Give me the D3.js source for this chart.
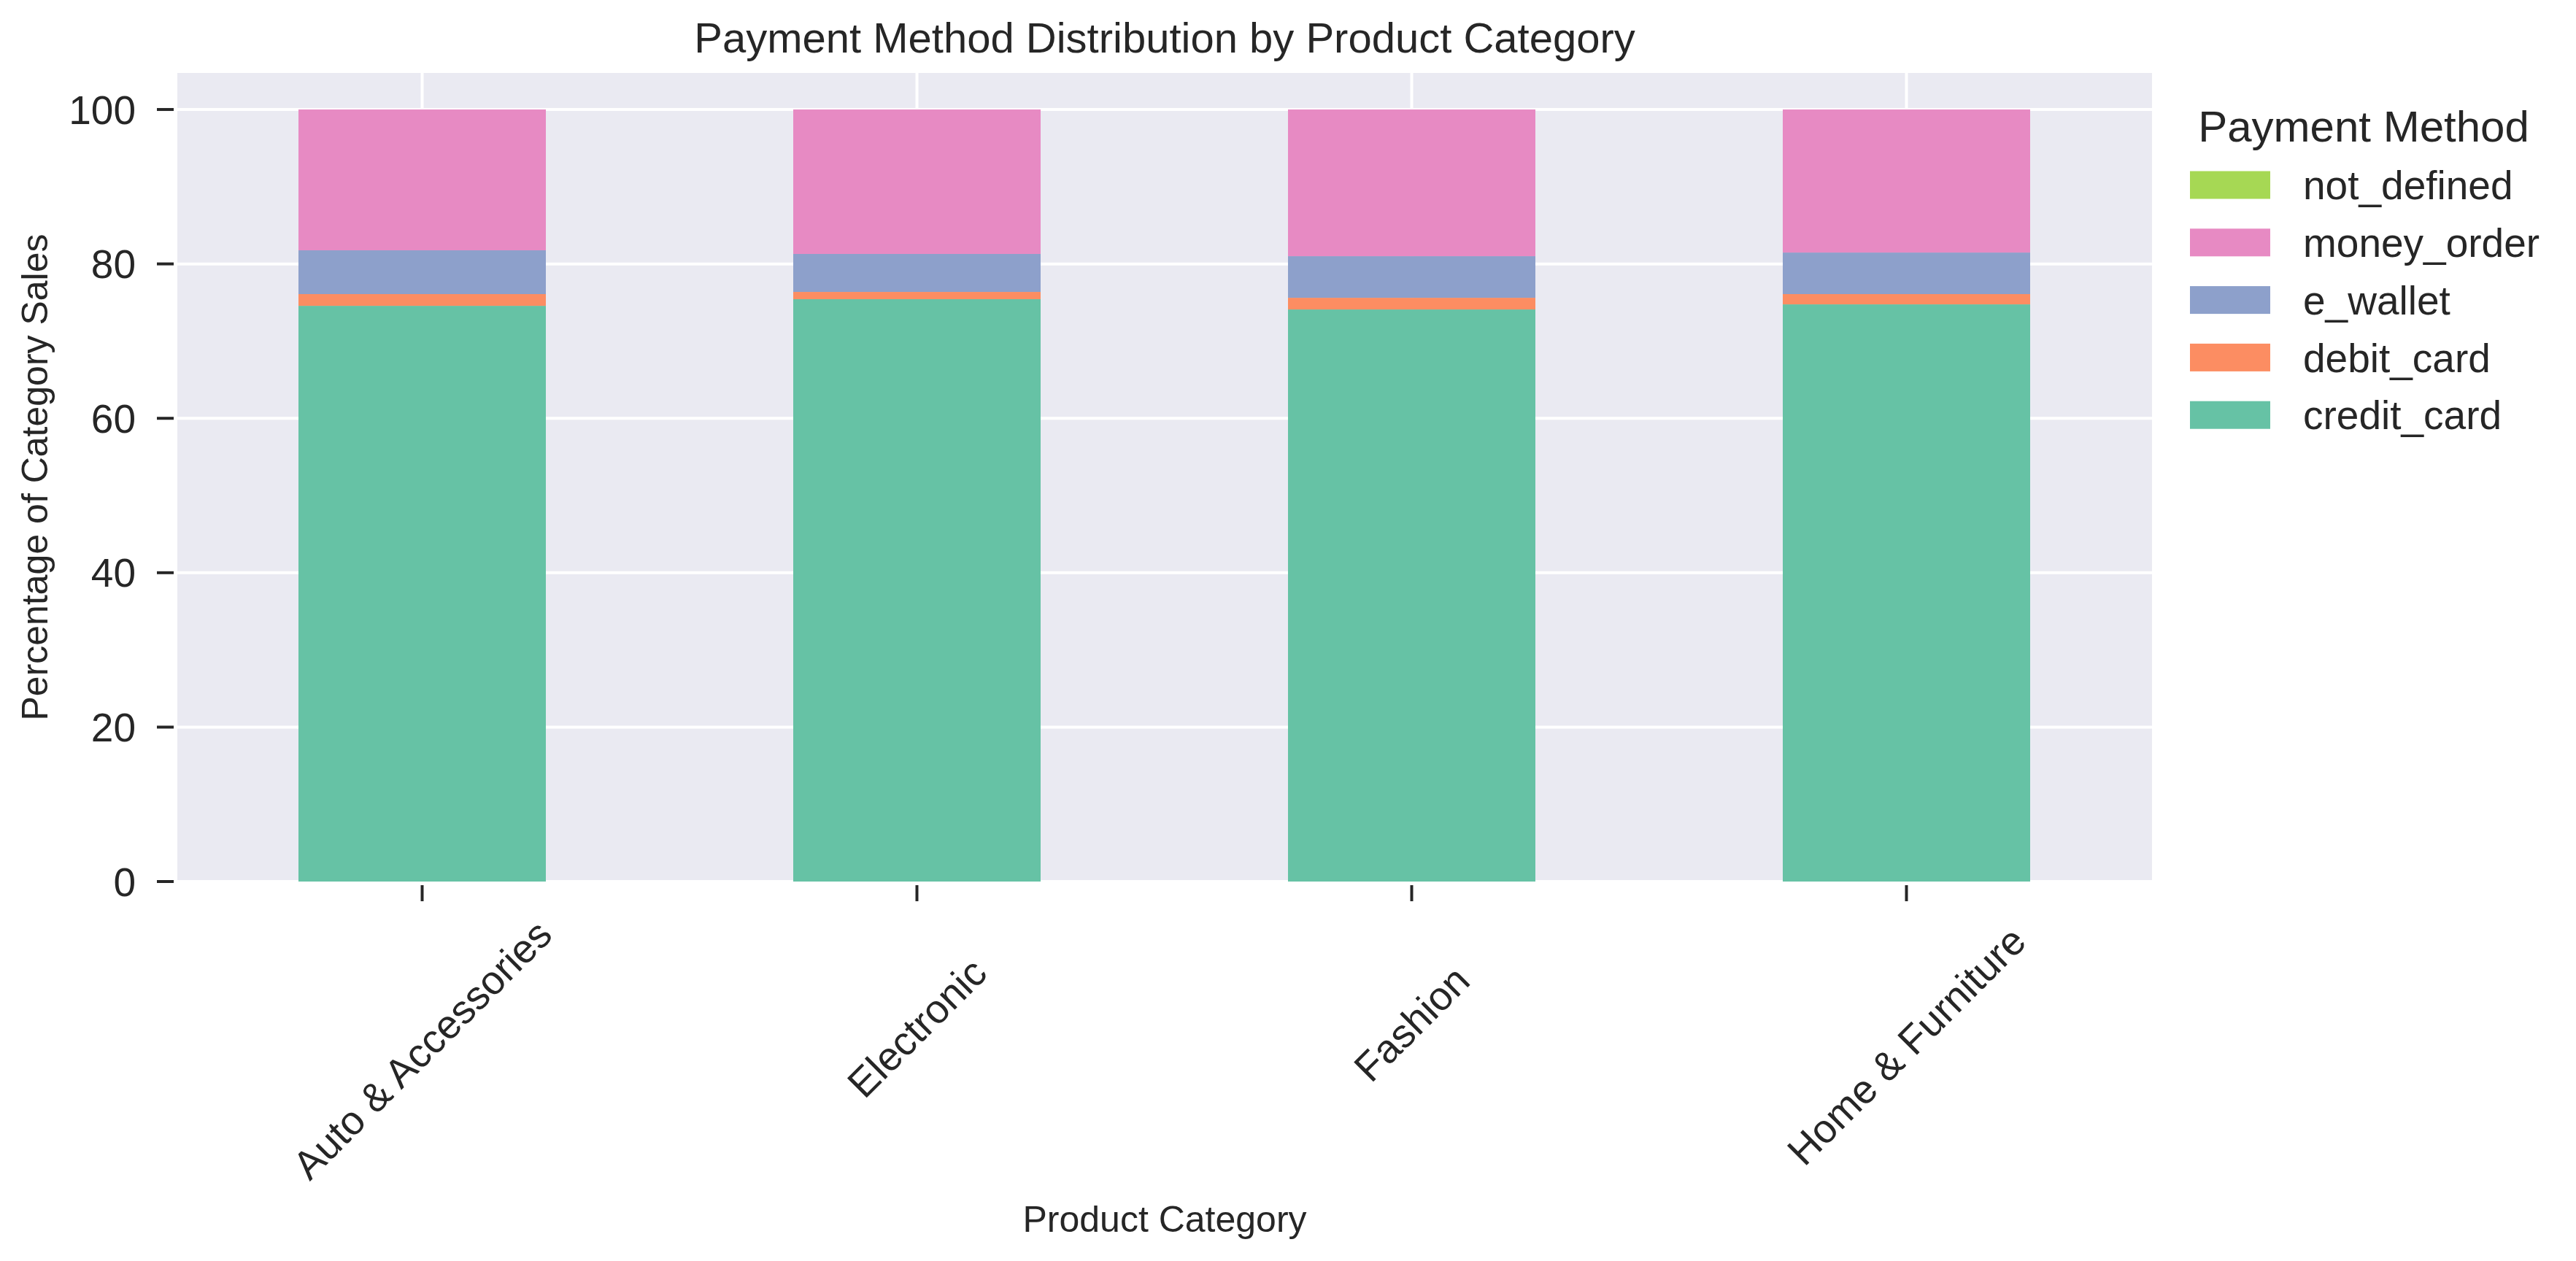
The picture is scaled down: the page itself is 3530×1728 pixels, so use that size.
<!DOCTYPE html>
<html>
<head>
<meta charset="utf-8">
<script src="https://cdn.jsdelivr.net/npm/d3@7"></script>
<style>
  html, body { margin: 0; padding: 0; background: #ffffff; }
  svg { display: block; }
  text { font-family: "Liberation Sans", Arial, sans-serif; fill: #262626; }
</style>
</head>
<body>
<svg id="chart" width="3530" height="1728"></svg>
<script>
// ---------------- data ----------------
const categories = ["Auto & Accessories", "Electronic", "Fashion", "Home & Furniture"];
const methods = ["credit_card", "debit_card", "e_wallet", "money_order", "not_defined"];
const creditCard = [74.57, 75.43, 74.10, 74.76];
const debitCard  = [1.52, 0.94, 1.51, 1.33];
const eWallet    = [5.67, 4.92, 5.39, 5.38];
const moneyOrder = [18.24, 18.71, 19.00, 18.53];
const notDefined = [0, 0, 0, 0];
const methodColors = ["#66c2a5", "#fc8d62", "#8da0cb", "#e78ac3", "#a6d854"];
const yTicks = [0, 20, 40, 60, 80, 100];
const titleText = "Payment Method Distribution by Product Category";
const xLabelText = "Product Category";
const yLabelText = "Percentage of Category Sales";
const legendTitle = "Payment Method";

// table built from arrays
const seriesValues = [creditCard, debitCard, eWallet, moneyOrder, notDefined];
const table = categories.map((c, i) => {
  const row = { category: c };
  methods.forEach((m, j) => { row[m] = seriesValues[j][i]; });
  return row;
});

// ---------------- layout ----------------
const plot = { left: 243, right: 2949, top: 100, bottom: 1208 };
const svg = d3.select("#chart");

const x = d3.scaleBand()
  .domain(categories)
  .range([239.5, 2951.5])
  .paddingInner(0.5)
  .paddingOuter(0.25);

const y = d3.scaleLinear()
  .domain([0, 104.73])
  .range([plot.bottom, plot.top]);

const color = d3.scaleOrdinal().domain(methods).range(methodColors);

// background
svg.append("rect")
  .attr("x", plot.left).attr("y", plot.top)
  .attr("width", plot.right - plot.left)
  .attr("height", plot.bottom - plot.top)
  .attr("fill", "#eaeaf2");

// gridlines
svg.append("g").selectAll("line").data(yTicks).join("line")
  .attr("x1", plot.left).attr("x2", plot.right)
  .attr("y1", d => y(d)).attr("y2", d => y(d))
  .attr("stroke", "#ffffff").attr("stroke-width", 4);
svg.append("g").selectAll("line").data(categories).join("line")
  .attr("x1", d => x(d) + x.bandwidth() / 2).attr("x2", d => x(d) + x.bandwidth() / 2)
  .attr("y1", plot.top).attr("y2", plot.bottom)
  .attr("stroke", "#ffffff").attr("stroke-width", 4);

// stacked bars
const stacked = d3.stack().keys(methods)(table);
svg.append("g").selectAll("g").data(stacked).join("g")
  .attr("fill", d => color(d.key))
  .selectAll("rect").data(d => d).join("rect")
  .attr("x", d => x(d.data.category))
  .attr("width", x.bandwidth())
  .attr("y", d => y(d[1]))
  .attr("height", d => Math.max(0, y(d[0]) - y(d[1])));

// y axis ticks & labels
const yAxisG = svg.append("g");
yAxisG.selectAll("line").data(yTicks).join("line")
  .attr("x1", 215).attr("x2", 238)
  .attr("y1", d => y(d)).attr("y2", d => y(d))
  .attr("stroke", "#262626").attr("stroke-width", 4);
yAxisG.selectAll("text").data(yTicks).join("text")
  .attr("x", 186)
  .attr("y", d => y(d))
  .attr("dy", "0.355em")
  .attr("text-anchor", "end")
  .attr("font-size", 55)
  .text(d => d);

// x axis ticks & rotated labels
const xAxisG = svg.append("g");
xAxisG.selectAll("line").data(categories).join("line")
  .attr("x1", d => x(d) + x.bandwidth() / 2).attr("x2", d => x(d) + x.bandwidth() / 2)
  .attr("y1", 1213).attr("y2", 1235)
  .attr("stroke", "#262626").attr("stroke-width", 4);

const fsTick = 55;
const lineH = 1.117 * fsTick;
xAxisG.selectAll("text").data(categories).join("text")
  .attr("text-anchor", "middle")
  .attr("font-size", fsTick)
  .text(d => d)
  .each(function(d) {
    const w = this.getComputedTextLength();
    const side = (w + lineH) / Math.SQRT2;
    const cx = x(d) + x.bandwidth() / 2;
    const cy = 1370 + 0.18 * side;
    d3.select(this)
      .attr("x", 0)
      .attr("y", 0.3465 * fsTick)
      .attr("transform", `translate(${cx},${cy}) rotate(-45)`);
  });

// axis labels
svg.append("text")
  .attr("x", (plot.left + plot.right) / 2)
  .attr("y", 1688)
  .attr("text-anchor", "middle")
  .attr("font-size", 50)
  .text(xLabelText);

svg.append("text")
  .attr("transform", `translate(65,${(plot.top + plot.bottom) / 2}) rotate(-90)`)
  .attr("text-anchor", "middle")
  .attr("font-size", 50)
  .text(yLabelText);

// title
svg.append("text")
  .attr("x", (plot.left + plot.right) / 2)
  .attr("y", 72)
  .attr("text-anchor", "middle")
  .attr("font-size", 58)
  .text(titleText);

// legend
const legendOrder = methods.slice().reverse();
const lg = svg.append("g");
lg.append("text")
  .attr("x", 3239).attr("y", 194)
  .attr("text-anchor", "middle")
  .attr("font-size", 60)
  .text(legendTitle);
const rowStep = 78.8;
const rows = lg.selectAll("g.row").data(legendOrder).join("g")
  .attr("class", "row")
  .attr("transform", (d, i) => `translate(0,${234.5 + i * rowStep})`);
rows.append("rect")
  .attr("x", 3001).attr("y", 0)
  .attr("width", 110).attr("height", 38)
  .attr("fill", d => color(d));
rows.append("text")
  .attr("x", 3156).attr("y", 19 + 19.7)
  .attr("font-size", 55)
  .text(d => d);
</script>
</body>
</html>
